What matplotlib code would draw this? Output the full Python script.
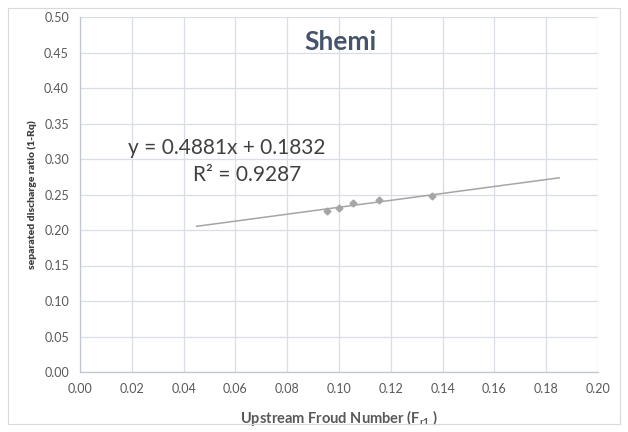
import matplotlib
matplotlib.use("Agg")
import matplotlib.pyplot as plt
import numpy as np
from matplotlib.patches import Rectangle

# Data
froude = [0.0955, 0.100, 0.1053, 0.1155, 0.1358]
ratio = [0.227, 0.2314, 0.2376, 0.2423, 0.2479]
slope, intercept = 0.4881, 0.1832
trend_x = [0.045, 0.185]
x_ticks = [0.00, 0.02, 0.04, 0.06, 0.08, 0.10, 0.12, 0.14, 0.16, 0.18, 0.20]
y_ticks = [0.00, 0.05, 0.10, 0.15, 0.20, 0.25, 0.30, 0.35, 0.40, 0.45, 0.50]
title = "Shemi"
eq_text = "y = 0.4881x + 0.1832"
r2_text = "R² = 0.9287"
xlabel = "Upstream Froud Number (F$_{\\mathregular{r1}}$ )"
ylabel = "separated discharge ratio (1-Rq)"

plt.rcParams['font.family'] = ['Lato', 'DejaVu Sans']

W, H = 628, 432
fig = plt.figure(figsize=(W / 100, H / 100), dpi=100)
fig.patches.append(Rectangle((8 / W, 8 / H), (W - 16) / W, (H - 16) / H,
                             transform=fig.transFigure, fill=False,
                             edgecolor='#D9D9D9', linewidth=0.8))

left, right, top, bottom = 80, 598, 17, 372
ax = fig.add_axes([left / W, 1 - bottom / H, (right - left) / W, (bottom - top) / H])

ax.set_xlim(0, 0.20)
ax.set_ylim(0, 0.50)
ax.set_xticks(x_ticks)
ax.set_yticks(y_ticks)
ax.set_xticklabels([f"{v:.2f}" for v in x_ticks])
ax.set_yticklabels([f"{v:.2f}" for v in y_ticks])
ax.tick_params(axis='both', length=0, labelsize=9, colors='#595959', pad=8)
ax.grid(True, color='#D9DEE6', linewidth=0.9)
ax.set_axisbelow(True)
for s in ['top', 'right']:
    ax.spines[s].set_visible(False)
for s in ['left', 'bottom']:
    ax.spines[s].set_color('#BFC6D1')
    ax.spines[s].set_linewidth(0.9)

tx = np.array(trend_x)
ax.plot(tx, slope * tx + intercept, color='#A5A5A5', linewidth=1.1, zorder=3)
ax.plot(froude, ratio, linestyle='none', marker='D', markersize=3.5,
        color='#A5A5A5', zorder=4)

ax.text(0.502, 0.93, title, transform=ax.transAxes, ha='center', va='center',
        fontsize=19, fontweight='bold', color='#44546A')
ax.text(0.284, 0.631, eq_text, transform=ax.transAxes, ha='center', va='center',
        fontsize=15, color='#404040')
ax.text(0.323, 0.556, r2_text, transform=ax.transAxes, ha='center', va='center',
        fontsize=15, color='#404040')

ax.set_xlabel(xlabel, fontsize=10.5, fontweight='bold', color='#595959', labelpad=9)
ax.set_ylabel(ylabel, fontsize=7.5, fontweight='heavy', color='#404040', labelpad=5)

fig.savefig("out.png", dpi=100)
